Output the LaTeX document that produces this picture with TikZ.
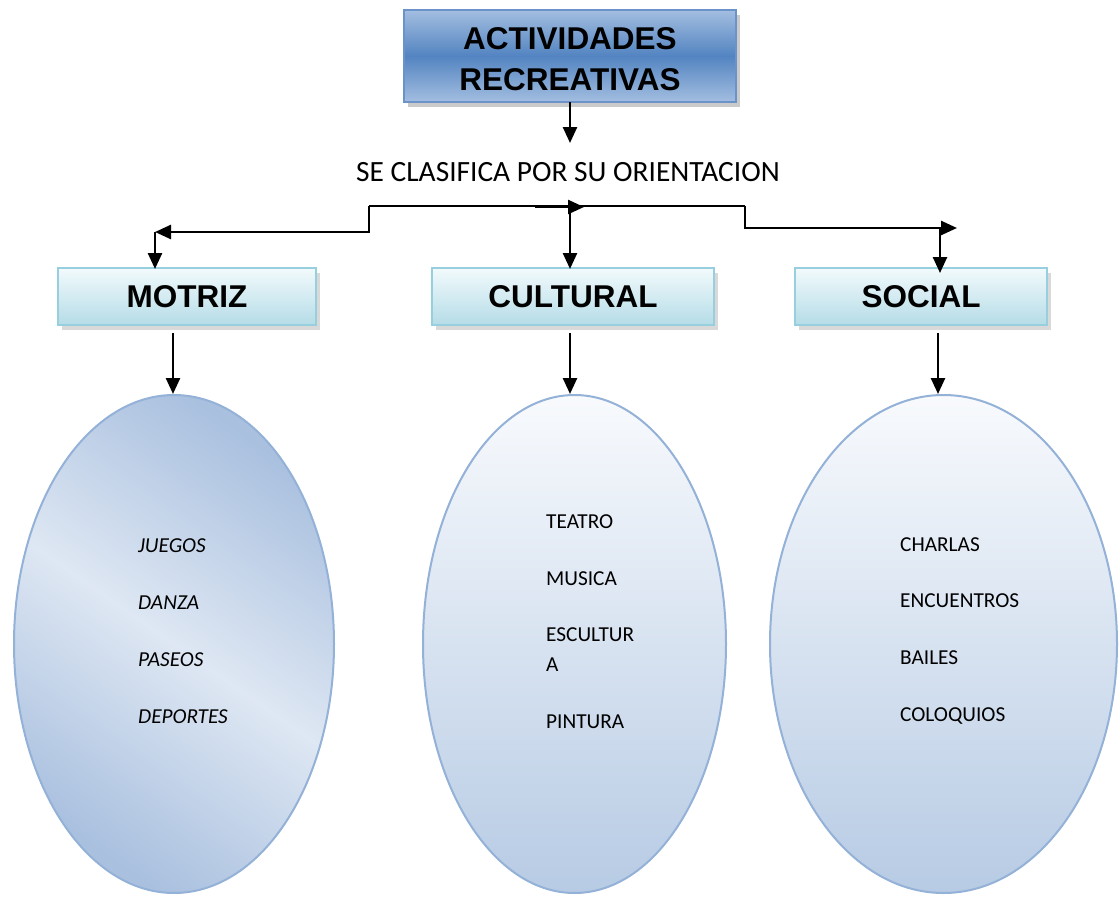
\documentclass[tikz,border=0pt]{standalone}
\usepackage{fontspec}
\setmainfont{Carlito}
\newfontfamily\arialb{Liberation Sans}[BoldFont={Liberation Sans Bold}]
\usetikzlibrary{arrows.meta,shadows,shapes.geometric}
\definecolor{topA}{HTML}{A3BEE0}
\definecolor{topB}{HTML}{5384C1}
\definecolor{topBorder}{HTML}{6C93C9}
\definecolor{cyA}{HTML}{F2FAFC}
\definecolor{cyB}{HTML}{B5DCE7}
\definecolor{cyBorder}{HTML}{98CFDE}
\definecolor{elA}{HTML}{F8FAFD}
\definecolor{elB}{HTML}{B7CBE4}
\definecolor{elDark}{HTML}{A9C0DF}
\definecolor{elLight}{HTML}{DEE7F3}
\definecolor{elBorder}{HTML}{94B1D8}
\tikzset{
  x=1pt,y=-1pt,
  arr/.style={line width=2.5pt,-{Triangle[length=16pt,width=14pt]}},
  ln/.style={line width=2.5pt},
  topbox/.style={draw=topBorder,line width=2pt,minimum width=332pt,minimum height=92pt,
    top color=topA,bottom color=topA,middle color=topB,
    drop shadow={shadow xshift=4pt,shadow yshift=-5pt,opacity=0.35,fill=black!60},
    font=\arialb\bfseries\fontsize{31.5}{41}\selectfont,align=center,inner sep=0pt},
  catbox/.style={draw=cyBorder,line width=2pt,minimum height=57pt,
    top color=cyA,bottom color=cyB,
    drop shadow={shadow xshift=4pt,shadow yshift=-5pt,opacity=0.3,fill=black!50},
    font=\arialb\bfseries\fontsize{31.5}{36}\selectfont,inner sep=0pt},
  elli/.style={ellipse,draw=elBorder,line width=2pt,top color=elA,bottom color=elB,inner sep=0pt},
  item/.style={anchor=west,inner sep=0pt,text height=13.5pt,text depth=0pt,font=\fontsize{21.3}{25}\selectfont},
  itemi/.style={item,font=\fontsize{21.3}{25}\selectfont\itshape},
}
\begin{document}
\begin{tikzpicture}
\useasboundingbox (0,0) rectangle (1120,897);
% top
\node[topbox] (top) at (570,56) {};
\node[inner sep=0pt,font=\arialb\bfseries\fontsize{31.5}{41}\selectfont,align=center] (toptext) at (570,59) {ACTIVIDADES\\RECREATIVAS};
\coordinate (t1) at (570,102);
\node[inner sep=0pt,font=\fontsize{29.4}{34}\selectfont] (clas) at (568,172) {SE CLASIFICA POR SU ORIENTACION};
\draw[arr] (t1) -- (570,143);
% categories
\node[catbox,minimum width=258pt] (mot) at (187,296.5) {MOTRIZ};
\node[catbox,minimum width=282pt] (cul) at (573,296.5) {CULTURAL};
\node[catbox,minimum width=252pt] (soc) at (921,296.5) {SOCIAL};
% connector network
\coordinate (a1) at (369,206);
\coordinate (a2) at (369,232);
\coordinate (a3) at (155,232);
\coordinate (b1) at (745,206);
\coordinate (b2) at (745,228);
\coordinate (b3) at (957,228);
\coordinate (m1) at (535,207);
\coordinate (m2) at (584,207);
\coordinate (c1) at (570,206);
\coordinate (d1) at (940,228);
\draw[ln] (a1) -- (b1);
\draw[arr] (a1) -- (a2) -- (a3);
\draw[arr] (b1) -- (b2) -- (b3);
\draw[arr] (m1) -- (m2);
\draw[arr] (a3) -- (155,269);
\draw[arr] (c1) -- (570,269);
\draw[arr] (d1) -- (940,273);
% ellipses
\node[elli,minimum width=320pt,minimum height=498pt,top color=elDark,bottom color=elDark,middle color=elLight,shading angle=-35] (e1) at (174,644) {};
\node[elli,minimum width=303pt,minimum height=498pt] (e2) at (574.5,644) {};
\node[elli,minimum width=347pt,minimum height=498pt] (e3) at (943.5,644) {};
\coordinate (f1) at (173,333);
\coordinate (f2) at (570,333);
\coordinate (f3) at (938,333);
\draw[arr] (f1) -- (f1 |- e1.north);
\draw[arr] (f2) -- (f2 |- e2.north);
\draw[arr] (f3) -- (f3 |- e3.north);
% items
\node[itemi] (j1) at (138,546) {JUEGOS};
\node[itemi] (j2) at (138,603) {DANZA};
\node[itemi] (j3) at (138,660) {PASEOS};
\node[itemi] (j4) at (138,717) {DEPORTES};
\node[item] (c1t) at (546,522) {TEATRO};
\node[item] (c2t) at (546,579) {MUSICA};
\node[item] (c3t) at (546,635) {ESCULTUR};
\node[item] (c3b) at (546,665) {A};
\node[item] (c4t) at (546,722) {PINTURA};
\node[item] (s1) at (900,545) {CHARLAS};
\node[item] (s2) at (900,601) {ENCUENTROS};
\node[item] (s3) at (900,658) {BAILES};
\node[item] (s4) at (900,715) {COLOQUIOS};
\end{tikzpicture}
\end{document}
